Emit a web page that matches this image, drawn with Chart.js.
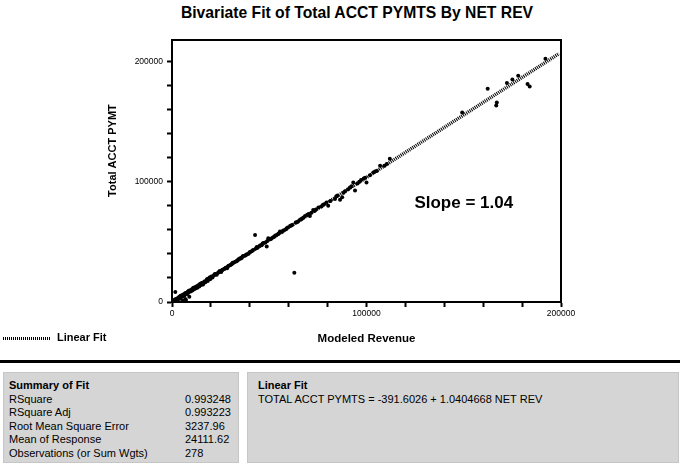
<!DOCTYPE html>
<html>
<head>
<meta charset="utf-8">
<script src="https://cdn.jsdelivr.net/npm/chart.js@4/dist/chart.umd.min.js"></script>
<style>
    body { margin: 0; width: 680px; height: 467px; background: #fff; position: relative; overflow: hidden;
           font-family: "Liberation Sans", Arial, sans-serif; color: #000; }
    #chart { position: absolute; left: 0; top: 0; }
    .title { position: absolute; top: 4px; left: 17px; width: 680px; text-align: center; font-weight: bold; font-size: 15.7px; }
    .legend { position: absolute; left: 3px; top: 331px; font-size: 11px; font-weight: bold; }
    .legend .swatch { position: absolute; left: 0; top: 6px; width: 47px; height: 3px;
                      background: repeating-linear-gradient(90deg, #000 0 1px, transparent 1px 2px); }
    .legend span { position: absolute; left: 54px; top: 0; white-space: nowrap; }
    .rule { position: absolute; left: 0; top: 360px; width: 680px; height: 3px; background: #000; }
    .box { position: absolute; top: 372px; height: 91px; background: #d5d5d5; border: 1px solid #c6c6c6;
           box-sizing: border-box; font-size: 11px; line-height: 13.5px; padding: 6px 0 0 5px; }
    .box b { display: block; }
    .row { position: relative; white-space: nowrap; }
    .row .v { position: absolute; left: 176px; top: 0; }
</style>
</head>
<body>
<div class="title">Bivariate Fit of Total ACCT PYMTS By NET REV</div>
<canvas id="chart" width="680" height="355"></canvas>
<div class="legend"><div class="swatch"></div><span>Linear Fit</span></div>
<div class="rule"></div>
<div class="box" id="summary" style="left:3px; width:236px;"></div>
<div class="box" id="fitbox" style="left:247px; width:432px; padding-left:10px;"></div>
<script>
const revenue = [
    500, 800, 1000, 1200, 1500, 1700, 1900, 2000, 2300, 2600, 2800, 3000, 3200, 3500, 3600, 3800,
    4100, 4300, 4400, 4700, 5000, 5100, 5300, 5600, 5900, 6000, 6200, 6500, 6800, 6900, 7200, 7500,
    7600, 7800, 8100, 8400, 8600, 8900, 9200, 9600, 9900, 10000, 10400, 10800, 11000, 11200, 11700,
    12100, 12300, 12600, 13000, 13500, 13700, 14000, 14500, 15000, 15200, 15500, 16000, 16600, 16800,
    17200, 17800, 18100, 18400, 19000, 19300, 19600, 20200, 20500, 20800, 21500, 21900, 22300, 22700,
    23000, 23800, 24100, 24500, 25300, 25700, 26000, 26800, 27200, 27600, 28300, 28700, 29100, 30000,
    30400, 30800, 31200, 31600, 32500, 33300, 33800, 34200, 35000, 35400, 35900, 36300, 36800, 37700,
    38100, 38600, 39400, 39900, 40300, 41200, 41700, 42700, 43100, 43600, 44000, 45000, 45500, 46100,
    46600, 47000, 48000, 48700, 49000, 49500, 50500, 51000, 51600, 52400, 53000, 53500, 54400, 54900,
    55500, 56500, 57000, 57600, 58600, 59000, 59500, 60700, 61200, 61800, 62900, 63600, 64200, 64800,
    65800, 66400, 66900, 67600, 68400, 69500, 70200, 70900, 71700, 72600, 73300, 74000, 75300, 76800,
    77500, 78200, 79400, 80300, 81500, 83800, 84500, 85100, 86400, 87500, 88200, 89000, 90600, 91500,
    92300, 93200, 94100, 95400, 96300, 97200, 98600, 99300, 100000, 101800, 103500, 104400, 105300,
    107000, 109200, 110400, 112000, 149200, 162300, 166700, 167000, 172200, 175000, 178000, 182800,
    183900, 192000
];
const payments = [
    300, 1200, 700, 600, 2000, 8300, 2300, 1500, 2600, 1800, 2500, 3400, 2200, 4000, 3200, 3100,
    4600, 4900, 3600, 5200, 4300, 5600, 1200, 5900, 5000, 5700, 6700, 5600, 2400, 7400, 1700, 7800,
    6600, 6900, 8600, 7600, 9300, 4400, 9600, 8800, 9500, 10500, 9600, 11200, 11900, 10400, 12100,
    11300, 12600, 13000, 11900, 14000, 13600, 12800, 15100, 14200, 15600, 15800, 14600, 17100, 16900,
    16400, 18400, 19100, 17500, 19600, 20400, 19000, 21200, 20700, 20300, 22000, 23100, 23400, 23000,
    22600, 24600, 24800, 25800, 25000, 26400, 26900, 27400, 27900, 28600, 28100, 29600, 30200, 30800,
    31100, 31700, 32700, 32600, 33500, 33900, 34800, 35600, 36400, 36200, 36800, 38000, 38300, 38700,
    39400, 39800, 40100, 41300, 41600, 42500, 43200, 55800, 44600, 45700, 45200, 46600, 47300, 47200,
    48600, 49100, 49600, 46100, 50700, 53100, 52300, 52600, 53400, 54000, 55100, 55500, 56300, 57100,
    58600, 58300, 59200, 59700, 60500, 61400, 62000, 63300, 63700, 64000, 24400, 66100, 66300, 67000,
    68400, 68900, 69400, 70400, 71600, 72600, 73300, 71600, 74200, 76600, 75800, 76900, 78700, 79500,
    80700, 81400, 82700, 80000, 84100, 85600, 87900, 88600, 85000, 87200, 90900, 92200, 93800, 95200,
    96300, 99400, 92700, 98500, 100100, 101600, 102800, 103300, 99400, 105400, 107700, 108600, 109100,
    113300, 113400, 114800, 119100, 157700, 177400, 163500, 166000, 182200, 185200, 188300, 181400,
    179400, 202500
];

// fitted line end points
const fitX = [0, 199000];
const fitY = [-392, 206661];

const xTicks = [0, 20000, 40000, 60000, 80000, 100000, 120000, 140000, 160000, 180000, 200000];
const yTicks = [0, 20000, 40000, 60000, 80000, 100000, 120000, 140000, 160000, 180000, 200000];
const labelledTicks = [0, 100000, 200000];

const summaryRows = [
    ["RSquare", "0.993248"],
    ["RSquare Adj", "0.993223"],
    ["Root Mean Square Error", "3237.96"],
    ["Mean of Response", "24111.62"],
    ["Observations (or Sum Wgts)", "278"]
];
const fitEquation = "TOTAL ACCT PYMTS = -391.6026 + 1.0404668 NET REV";
const slopeLabel = "Slope = 1.04";
const yAxisTitle = "Total ACCT PYMT";

const summary = document.getElementById("summary");
summary.innerHTML = "<b>Summary of Fit</b>" + summaryRows.map(function (r) {
    return '<div class="row">' + r[0] + '<span class="v">' + r[1] + "</span></div>";
}).join("");
document.getElementById("fitbox").innerHTML = "<b>Linear Fit</b><div class=\"row\">" + fitEquation + "</div>";

const fontFamily = "'Liberation Sans', Arial, sans-serif";

// top/right frame, slope note and the y title (sits above the plot centre in the original)
const frame = {
    id: "frame",
    afterDraw: function (chart) {
        const a = chart.chartArea;
        const ctx = chart.ctx;
        ctx.save();
        ctx.strokeStyle = "#000";
        ctx.lineWidth = 2;
        ctx.beginPath();
        ctx.moveTo(a.left, a.top);
        ctx.lineTo(a.right, a.top);
        ctx.lineTo(a.right, a.bottom);
        ctx.stroke();
        ctx.fillStyle = "#000";
        ctx.textAlign = "center";
        ctx.textBaseline = "middle";
        ctx.font = "bold 17px " + fontFamily;
        ctx.fillText(slopeLabel, chart.scales.x.getPixelForValue(150000), chart.scales.y.getPixelForValue(82000));
        ctx.font = "bold 11px " + fontFamily;
        ctx.translate(113, chart.scales.y.getPixelForValue(126000));
        ctx.rotate(-Math.PI / 2);
        ctx.fillText(yAxisTitle, 0, 0);
        ctx.restore();
    }
};

const tickFont = { family: fontFamily, size: 8.5 };

function axisTicks(values) {
    return function (scale) {
        scale.ticks = values.map(function (v) { return { value: v }; });
    };
}
function tickLabel(v) {
    return labelledTicks.indexOf(v) >= 0 ? String(v) : "";
}

new Chart(document.getElementById("chart"), {
    type: "scatter",
    data: {
        datasets: [
            {
                label: "Observations",
                data: revenue.map(function (x, i) { return { x: x, y: payments[i] }; }),
                backgroundColor: "#000",
                borderColor: "#000",
                pointStyle: "circle",
                pointRadius: 2,
                borderWidth: 0
            },
            {
                label: "Linear Fit",
                type: "line",
                data: fitX.map(function (x, i) { return { x: x, y: fitY[i] }; }),
                borderColor: "#000",
                borderWidth: 3.5,
                borderDash: [1, 1],
                pointRadius: 0,
                fill: false
            }
        ]
    },
    options: {
        responsive: false,
        animation: false,
        layout: { padding: { top: 40, right: 119, left: 0, bottom: 0 } },
        plugins: { legend: { display: false }, tooltip: { enabled: false } },
        scales: {
            x: {
                type: "linear",
                min: 0,
                max: 200000,
                afterBuildTicks: axisTicks(xTicks),
                afterFit: function (scale) { scale.height = 53; },
                grid: { drawOnChartArea: false, drawTicks: true, tickLength: 5, tickWidth: 2, tickColor: "#000" },
                border: { display: true, color: "#000", width: 2 },
                ticks: { font: tickFont, color: "#000", padding: 2, maxRotation: 0, autoSkip: false, callback: tickLabel },
                title: { display: true, text: "Modeled Revenue", font: { family: fontFamily, size: 11.5, weight: "bold" },
                         color: "#000", padding: { top: 0, bottom: 9 } }
            },
            y: {
                type: "linear",
                min: 0,
                max: 218000,
                afterBuildTicks: axisTicks(yTicks),
                afterFit: function (scale) { scale.width = 172; },
                grid: { drawOnChartArea: false, drawTicks: true, tickLength: 5, tickWidth: 2, tickColor: "#000" },
                border: { display: true, color: "#000", width: 2 },
                ticks: { font: tickFont, color: "#000", padding: 4, autoSkip: false, callback: tickLabel },
                title: { display: false }
            }
        }
    },
    plugins: [frame]
});
</script>
</body>
</html>
